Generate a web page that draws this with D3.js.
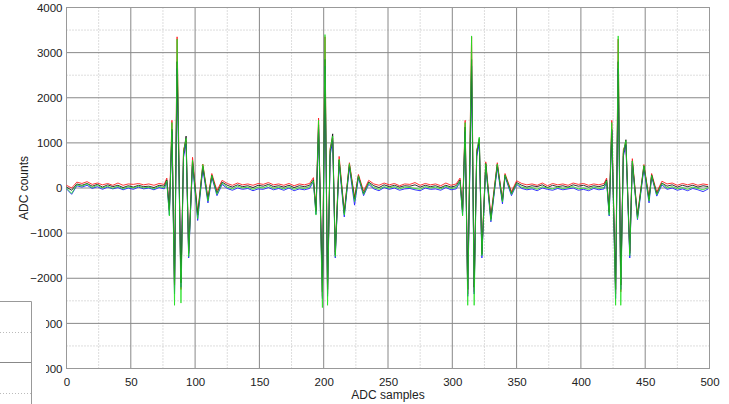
<!DOCTYPE html>
<html>
<head>
<meta charset="utf-8">
<script src="https://cdn.jsdelivr.net/npm/d3@7"></script>
<style>
body { margin: 0; background: #fff; }
svg { display: block; font-family: "Liberation Sans", Arial, sans-serif; }
</style>
</head>
<body>
<svg></svg>
<script>
// sample positions (x) shared by all four channels
var samples = [
    0,4,8,12,16,20,24,28,32,36,40,44,48,52,56,60,64,68,72,76,
    78,80,82,84,86,89,91,93,95,98,102,106,110,113,117,121,
    125,129,133,137,141,145,149,153,157,161,165,169,173,177,181,185,189,
    192,194,196,199,201,203,205,207,209,212,216,220,224,227,231,235,
    239,243,247,251,255,259,263,267,271,275,279,283,287,291,295,299,303,
    306,308,310,312,315,317,319,321,323,326,330,335,339,341,346,350,
    354,358,362,366,370,374,378,382,386,390,394,398,402,406,410,414,418,
    420,422,424,427,429,431,433,435,438,440,444,449,453,455,459,463,
    467,471,475,479,483,487,491,495,499
];

var blackVals = [
    20,-50,90,60,100,40,80,20,70,30,60,10,50,20,60,30,40,10,60,40,
    180,-500,1300,-2150,2800,-2100,750,1150,-1450,600,-600,480,-250,280,-110,130,
    60,20,70,30,50,10,60,40,80,30,50,20,60,10,50,30,60,
    180,-520,1400,-2300,2850,-2250,800,1200,-1480,620,-560,520,-250,270,-120,130,
    50,10,70,30,60,20,50,40,70,20,60,30,50,10,60,20,50,
    180,-520,1350,-2250,2850,-2200,780,1100,-1470,540,-680,520,-290,290,-120,120,
    60,20,50,30,70,10,60,30,50,20,70,40,60,20,50,30,60,
    180,-540,1300,-2250,2800,-2150,760,1070,-1450,600,-640,490,-250,290,-130,110,
    40,70,20,60,30,60,20,50,30
];

var redVals = [
    60,0,130,100,140,80,110,70,100,60,110,60,90,80,100,70,90,60,100,80,
    220,-460,1500,-2300,3350,-2250,850,1050,-1400,680,-560,530,-220,320,-60,170,
    100,60,110,70,90,60,100,80,120,70,90,60,100,50,90,70,100,
    230,-470,1550,-2400,3350,-2350,880,1100,-1420,700,-520,560,-200,300,-70,170,
    90,60,110,70,100,50,90,80,120,60,100,70,90,50,110,60,90,
    220,-480,1500,-2350,3350,-2300,850,1000,-1400,580,-620,560,-250,320,-80,160,
    100,70,90,60,110,50,100,70,90,60,110,80,100,60,90,70,100,
    220,-500,1500,-2350,3300,-2300,850,980,-1400,650,-600,520,-220,320,-90,150,
    90,110,60,100,70,100,60,90,70
];

var blueVals = [
    -20,-140,50,20,60,-10,30,-30,20,-20,10,-40,0,-30,20,-20,0,-40,10,-20,
    140,-600,1250,-2350,2650,-2200,680,980,-1550,540,-720,430,-330,240,-170,80,
    -10,-50,0,-30,-10,-60,-20,-30,10,-40,-10,-50,0,-60,-20,-40,-10,
    140,-580,1300,-2450,2700,-2400,720,1050,-1550,560,-640,460,-380,230,-170,80,
    -20,-60,10,-30,0,-50,-20,-10,-40,-60,0,-30,-20,-50,10,-40,-20,
    130,-600,1250,-2400,2700,-2350,700,980,-1550,480,-750,460,-350,250,-170,80,
    -10,-40,-20,-60,0,-30,-50,-10,-40,-20,0,-50,-30,-60,-10,-40,-20,
    130,-620,1250,-2450,2650,-2250,700,950,-1550,560,-700,440,-330,250,-180,70,
    -30,0,-50,-20,-60,-10,-40,-80,-20
];

var greenVals = [
    0,-120,70,40,90,10,60,0,40,-10,40,-20,30,0,40,0,20,-20,40,0,
    160,-620,1450,-2600,3300,-2550,800,1100,-1520,620,-680,520,-290,280,-140,110,
    20,-20,40,0,20,-30,20,0,50,-10,20,-20,30,-30,10,-10,30,
    160,-600,1500,-2650,3400,-2600,850,1150,-1520,640,-600,540,-300,270,-140,110,
    10,-30,30,0,30,-20,20,10,-10,-30,30,0,20,-20,40,-10,10,
    160,-620,1450,-2600,3370,-2600,820,1130,-1500,540,-720,530,-310,290,-140,100,
    20,-10,10,-30,30,0,-20,20,-10,10,30,-20,0,-30,20,-10,10,
    160,-600,1450,-2600,3370,-2600,800,1050,-1500,600,-680,500,-290,280,-150,100,
    0,30,-20,10,-30,20,-10,-40,10
];

var xTicks = [0,50,100,150,200,250,300,350,400,450,500];
var xMinor = [25,75,125,175,225,275,325,375,425,475];
var yTicks = [-4000,-3000,-2000,-1000,0,1000,2000,3000,4000];
var yMinor = [-3500,-2500,-1500,-500,500,1500,2500,3500];

var width = 729, height = 404;
var svg = d3.select("svg")
    .attr("width", width)
    .attr("height", height);

var x = d3.scaleLinear().domain([0, 500]).range([66.5, 709.5]);
var y = d3.scaleLinear().domain([-4000, 4000]).range([368.5, 7.5]);

// minor dotted grid
svg.append("g").selectAll("line")
    .data(xMinor).enter().append("line")
    .attr("x1", d => x(d)).attr("x2", d => x(d))
    .attr("y1", y(4000)).attr("y2", y(-4000))
    .attr("stroke", "#bbb").attr("stroke-dasharray", "1,2");
svg.append("g").selectAll("line")
    .data(yMinor).enter().append("line")
    .attr("x1", x(0)).attr("x2", x(500))
    .attr("y1", d => y(d)).attr("y2", d => y(d))
    .attr("stroke", "#bbb").attr("stroke-dasharray", "1,2");

// major grid
svg.append("g").selectAll("line")
    .data(xTicks).enter().append("line")
    .attr("x1", d => x(d)).attr("x2", d => x(d))
    .attr("y1", y(4000)).attr("y2", y(-4000))
    .attr("stroke", "#888");
svg.append("g").selectAll("line")
    .data(yTicks).enter().append("line")
    .attr("x1", x(0)).attr("x2", x(500))
    .attr("y1", d => y(d)).attr("y2", d => y(d))
    .attr("stroke", "#888");

// frame
svg.append("rect")
    .attr("x", x(0)).attr("y", y(4000))
    .attr("width", x(500) - x(0)).attr("height", y(-4000) - y(4000))
    .attr("fill", "none").attr("stroke", "#999");

// channels
var line = d3.line()
    .x(d => x(d[0]))
    .y(d => y(d[1]));

var series = [
    { vals: redVals, color: "#ff2020", w: 1, op: 0.9 },
    { vals: blueVals, color: "#2020ff", w: 1, op: 0.9 },
    { vals: blackVals, color: "#111", w: 1, op: 0.85 },
    { vals: greenVals, color: "#22e022", w: 1, op: 0.8 }
];

series.forEach(function(s) {
    svg.append("path")
        .datum(samples.map((t, i) => [t, s.vals[i]]))
        .attr("d", line)
        .attr("fill", "none")
        .attr("stroke", s.color)
        .attr("stroke-width", s.w)
        .attr("stroke-opacity", s.op)
        .attr("stroke-linejoin", "round");
});

// axes (labels only)
var yAxis = svg.append("g")
    .attr("transform", "translate(" + x(0) + ",0)")
    .call(d3.axisLeft(y).tickValues(yTicks).tickSize(0).tickPadding(4).tickFormat(d3.format("d")));
var xAxis = svg.append("g")
    .attr("transform", "translate(0," + y(-4000) + ")")
    .call(d3.axisBottom(x).tickValues(xTicks).tickSize(0).tickPadding(9).tickFormat(d3.format("d")));
[yAxis, xAxis].forEach(function(a) {
    a.select(".domain").remove();
    a.selectAll("text")
        .attr("fill", "#222")
        .style("font-size", "11.5px")
        .style("font-family", "'Liberation Sans', Arial, sans-serif");
});

svg.append("text")
    .attr("x", (x(0) + x(500)) / 2)
    .attr("y", 399)
    .attr("text-anchor", "middle")
    .attr("fill", "#222")
    .style("font-size", "12px")
    .text("ADC samples");

svg.append("text")
    .attr("transform", "translate(28," + y(0) + ") rotate(-90)")
    .attr("text-anchor", "middle")
    .attr("fill", "#222")
    .style("font-size", "12px")
    .text("ADC counts");

// another window overlapping the lower-left corner
var win = svg.append("g");
win.append("rect")
    .attr("x", 0).attr("y", 301.5)
    .attr("width", 46).attr("height", 110)
    .attr("fill", "#fff");
win.append("line")
    .attr("x1", 0).attr("x2", 31.5).attr("y1", 332.5).attr("y2", 332.5)
    .attr("stroke", "#bbb").attr("stroke-dasharray", "1,2");
win.append("line")
    .attr("x1", 0).attr("x2", 31.5).attr("y1", 393.5).attr("y2", 393.5)
    .attr("stroke", "#bbb").attr("stroke-dasharray", "1,2");
win.append("line")
    .attr("x1", 0).attr("x2", 31.5).attr("y1", 362.5).attr("y2", 362.5)
    .attr("stroke", "#888");
win.append("path")
    .attr("d", "M0,301.5H31.5V404")
    .attr("fill", "none")
    .attr("stroke", "#999");
</script>
</body>
</html>
